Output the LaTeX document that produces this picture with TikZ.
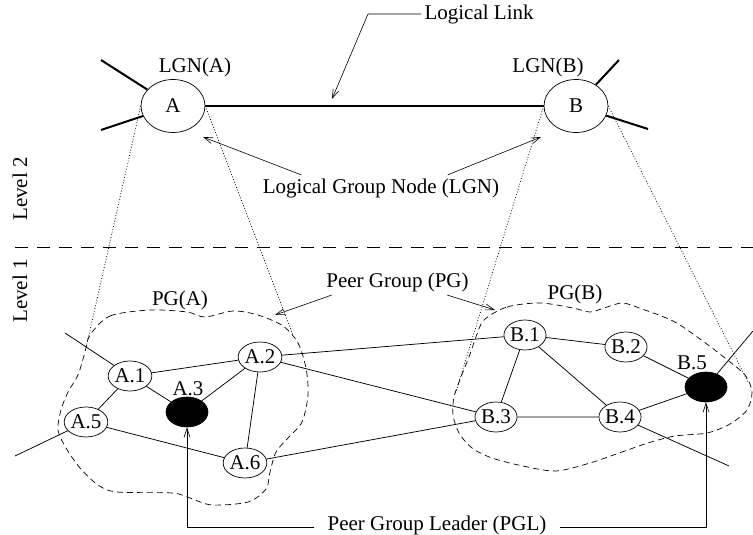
\documentclass[tikz,border=0pt]{standalone}
\usepackage{fontspec}
\setmainfont{Liberation Serif}
\usetikzlibrary{shapes.geometric,arrows.meta}

\begin{document}
\begin{tikzpicture}
[
	x=1pt,y=-1pt,
	every node/.style={font=\fontsize{21}{24}\selectfont},
	lgnode/.style={ellipse,draw=black,line width=0.7pt,minimum width=64pt,minimum height=53pt,inner sep=0pt},
	pnode/.style={ellipse,draw=black,line width=0.7pt,minimum width=42pt,minimum height=30pt,inner sep=0pt},
	leader/.style={pnode,fill=black},
	link/.style={line width=0.75pt},
	loglink/.style={line width=2pt},
	proj/.style={dotted,line width=0.8pt},
	pgline/.style={dash pattern=on 6pt off 4pt,line width=0.7pt},
	pointer/.style={-{Straight Barb[length=9pt,width=6pt]},line width=0.6pt},
]
	\useasboundingbox (0,0) rectangle (753,535);

	\begin{scope}
		\node[lgnode] (lgnA) at (173,106) {A};
		\node[lgnode] (lgnB) at (576,106) {B};
		\node (lgnAlbl) at (195,67.5) {LGN(A)};
		\node (lgnBlbl) at (548,67.5) {LGN(B)};
		\coordinate (spkA1) at (101,60);
		\coordinate (spkA2) at (101,130);
		\coordinate (spkB1) at (619,60);
		\coordinate (spkB2) at (648,129);

		\draw[loglink] (lgnA) -- (lgnB);
		\draw[loglink] (lgnA) -- (spkA1);
		\draw[loglink] (lgnA) -- (spkA2);
		\draw[loglink] (lgnB) -- (spkB1);
		\draw[loglink] (lgnB) -- (spkB2);
	\end{scope}

	\begin{scope}
		\node[rotate=90] (lvl2) at (20,189) {Level 2};
		\node[rotate=90] (lvl1) at (20,291) {Level 1};
		\coordinate (sepL) at (15,247);
		\coordinate (sepR) at (753,247);
		\draw[dash pattern=on 13pt off 9pt,line width=0.8pt] (sepL) -- (sepR);
	\end{scope}

	\begin{scope}
		\draw[pgline] plot[smooth cycle] coordinates {(90,335) (110,316) (150,310) (187,312) (205,317) (233,311) (258,315) (283,326) (298,343) (306,368) (308,395) (302,422) (288,438) (276,452) (270,472) (266,489) (248,502) (212,505) (190,498) (172,493) (117,492) (98,485) (80,468) (66,448) (58,430) (61,410) (68,392) (78,375) (85,352)};
		\node (pgA) at (180,300) {PG(A)};

		\node[pnode] (a1) at (130,376) {A.1};
		\node[pnode] (a2) at (260,357) {A.2};
		\node[leader] (a3) at (187,412) {};
		\node (a3lbl) at (188,389) {A.3};
		\node[pnode] (a5) at (86,422) {A.5};
		\node[pnode] (a6) at (245,463) {A.6};
		\coordinate (endA1) at (65,333);
		\coordinate (endA5) at (15,456);

		\draw[link] (endA1) -- (a1) -- (a2) -- (a3) -- (a1) -- (a5) -- (endA5);
		\draw[link] (a5) -- (a6) -- (a2);
	\end{scope}

	\begin{scope}
		\draw[pgline] plot[smooth cycle] coordinates {(484,320) (507,307) (540,303) (573,308) (590,312) (607,307) (623,303) (642,309) (673,321) (700,339) (725,358) (745,375) (752,392) (747,410) (730,424) (707,433) (675,436) (648,443) (622,452) (590,463) (556,471) (523,466) (492,458) (472,448) (459,433) (453,415) (454,397) (461,377) (469,357) (476,337)};
		\node (pgB) at (575,294) {PG(B)};

		\node[pnode] (b1) at (525,335) {B.1};
		\node[pnode] (b2) at (626,347) {B.2};
		\node[pnode] (b3) at (496,417) {B.3};
		\node[pnode] (b4) at (620,417) {B.4};
		\node[leader] (b5) at (706,387) {};
		\node (b5lbl) at (692,363) {B.5};
		\coordinate (endB4) at (729,466);
		\coordinate (endB5) at (753,331);

		\draw[link] (b3) -- (b1) -- (b2) -- (b5) -- (b4) -- (b3);
		\draw[link] (b1) -- (b4) -- (endB4);
		\draw[link] (b5) -- (endB5);
		\draw[link] (a2) -- (b1);
		\draw[link] (a2) -- (b3);
		\draw[link] (a6) -- (b3);
	\end{scope}

	\begin{scope}
		\coordinate (prA1) at (86,348);
		\coordinate (prA2) at (293,335);
		\coordinate (prB1) at (455,395);
		\coordinate (prB2) at (748,382);
		\draw[proj] (lgnA.west) -- (prA1);
		\draw[proj] (lgnA.east) -- (prA2);
		\draw[proj] (lgnB.west) -- (prB1);
		\draw[proj] (lgnB.east) -- (prB2);
	\end{scope}

	\begin{scope}
		\node[anchor=west] (llbl) at (421,14) {Logical Link};
		\coordinate (llbend) at (368,14);
		\coordinate (lltip) at (332,99);
		\draw[pointer] (llbl.west) -- (llbend) -- (lltip);

		\node (lgnlbl) at (381,188) {Logical Group Node (LGN)};
		\coordinate (lgntipA) at (203,137);
		\coordinate (lgntipB) at (541,137);
		\draw[pointer] ([xshift=42pt]lgnlbl.north west) -- (lgntipA);
		\draw[pointer] ([xshift=-55pt]lgnlbl.north east) -- (lgntipB);

		\node (pglbl) at (397.5,282) {Peer Group (PG)};
		\coordinate (pgtipA) at (275,315);
		\coordinate (pgtipB) at (495,310);
		\draw[pointer] ([xshift=9pt]pglbl.south west) -- (pgtipA);
		\draw[pointer] ([xshift=-25pt]pglbl.south east) -- (pgtipB);

		\node[inner xsep=13pt] (pgllbl) at (437,525) {Peer Group Leader (PGL)};
		\draw[pointer] ([yshift=-2.5pt]pgllbl.west) -| (a3);
		\draw[pointer] ([yshift=-2.5pt]pgllbl.east) -| (b5);
	\end{scope}
\end{tikzpicture}
\end{document}
